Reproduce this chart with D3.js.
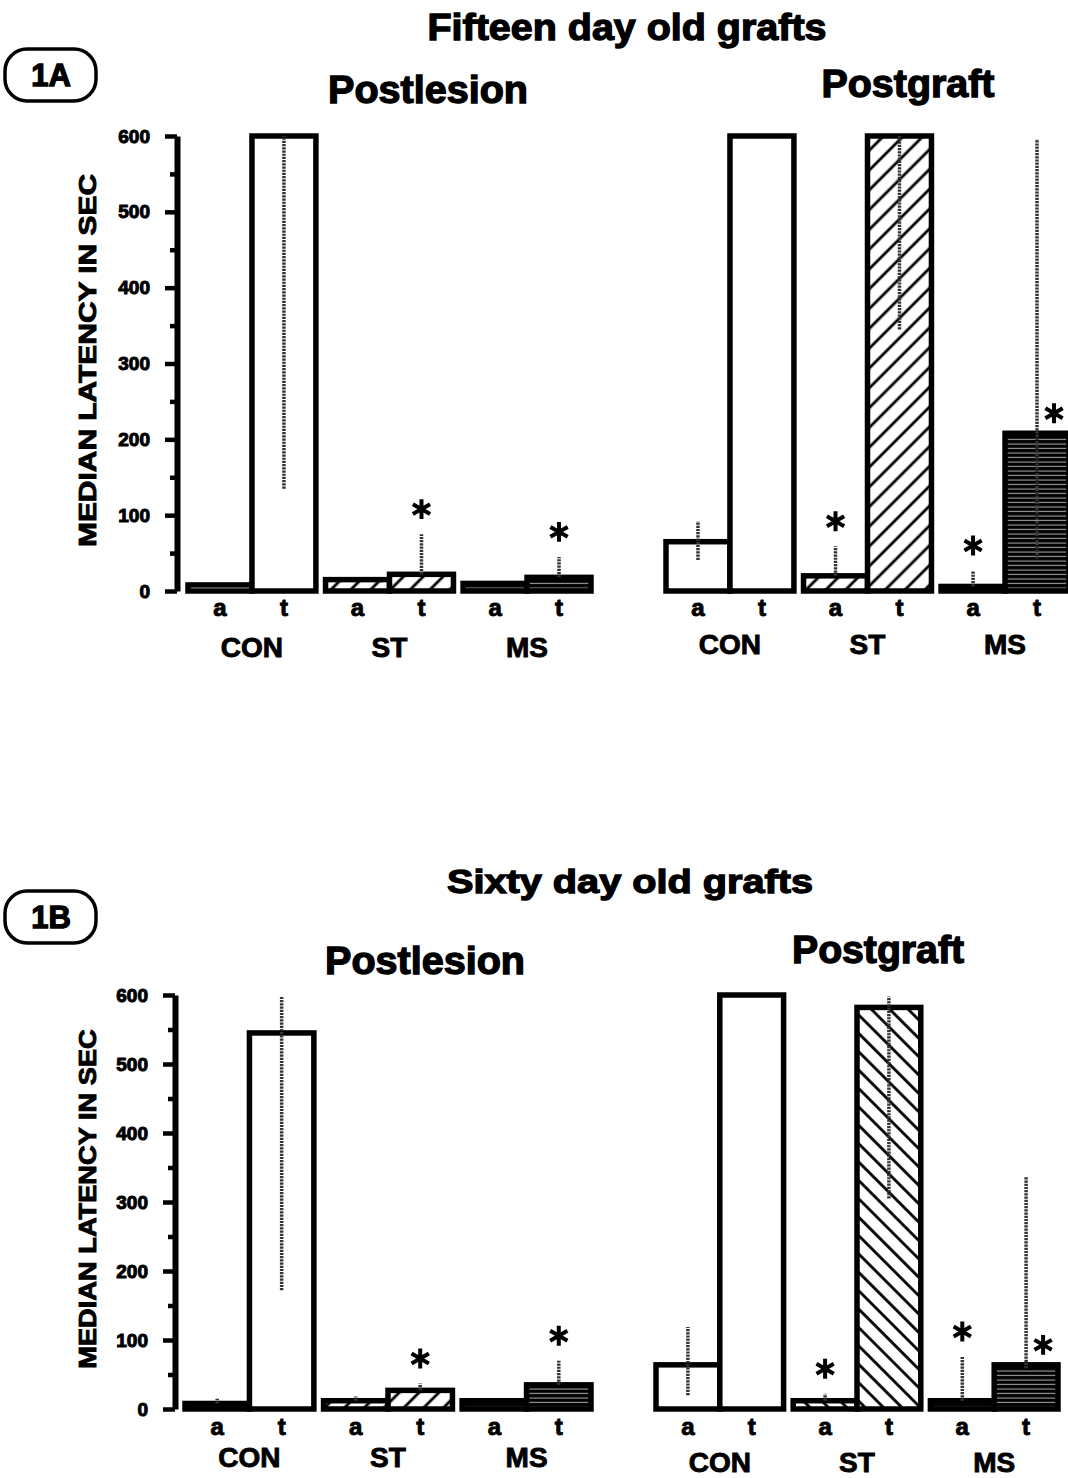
<!DOCTYPE html>
<html>
<head>
<meta charset="utf-8">
<style>
  body { margin: 0; background: #fff; }
  svg { display: block; font-family: 'Liberation Sans', Arial, sans-serif; font-weight: bold; }
  text { stroke: #000; stroke-width: 0.9px; paint-order: stroke; }
  .title { stroke-width: 1.3px; }
  .axis .domain { stroke: #000; stroke-width: 6px; }
  .axis .tick line { stroke: #000; stroke-width: 4.5px; }
  .axis .tick text { font-size: 19px; font-weight: bold; fill: #000; stroke: #000; stroke-width: 1px; font-family: 'Liberation Sans', Arial, sans-serif; }
  .minor .domain { display: none; }
  .minor .tick text { display: none; }
  .bar { stroke: #000; stroke-width: 5.5px; }
  .err { stroke: #333; stroke-width: 3.5px; stroke-dasharray: 2.2 1; }
  .star { fill: none; stroke: #000; stroke-width: 4px; }
</style>
</head>
<body>
<svg width="1068" height="1478"></svg>
<script src="https://d3js.org/d3.v7.min.js"></script>
<script>
// categories
const groups = ["CON", "ST", "MS"];
const sessions = ["a", "t"];
const yTicks = [0, 100, 200, 300, 400, 500, 600];
const yMinorTicks = [50, 150, 250, 350, 450, 550];

// order of every series: CON a, CON t, ST a, ST t, MS a, MS t
// 1A fifteen day old grafts, postlesion
const fifteenLesion = [8, 600, 15, 22, 10, 18];
const fifteenLesionLo = [null, 135, null, 22, null, 18];
const fifteenLesionHi = [null, 600, null, 75, null, 45];
const fifteenLesionStar = ["", "", "", "top", "", "top"];

// 1A fifteen day old grafts, postgraft
const fifteenGraft = [65, 600, 20, 600, 6, 208];
const fifteenGraftLo = [41, null, 20, 345, 6, 43];
const fifteenGraftHi = [92, null, 59, 600, 27, 596];
const fifteenGraftStar = ["", "", "top", "", "top", "side"];

// 1B sixty day old grafts, postlesion
const sixtyLesion = [8, 545, 12, 27, 12, 35];
const sixtyLesionLo = [8, 172, 12, 27, null, 35];
const sixtyLesionHi = [15, 598, 18, 37, null, 70];
const sixtyLesionStar = ["", "", "", "top", "", "top"];

// 1B sixty day old grafts, postgraft
const sixtyGraft = [64, 600, 12, 582, 12, 64];
const sixtyGraftLo = [20, null, 12, 305, 12, 59];
const sixtyGraftHi = [119, null, 22, 598, 76, 336];
const sixtyGraftStar = ["", "", "top", "", "top", "side"];

let svg = d3.select("svg");

// fill patterns
let defs = svg.append("defs");

function hatch(id, angle, gap) {
    let p = defs.append("pattern")
        .attr("id", id)
        .attr("patternUnits", "userSpaceOnUse")
        .attr("width", gap)
        .attr("height", gap)
        .attr("patternTransform", `rotate(${angle})`);
    p.append("rect").attr("width", gap).attr("height", gap).attr("fill", "#fff");
    p.append("line")
        .attr("x1", gap / 2).attr("x2", gap / 2)
        .attr("y1", 0).attr("y2", gap)
        .attr("stroke", "#000")
        .attr("stroke-width", 2.8);
}
hatch("hatchFwd", 45, 14);
hatch("hatchBack", -45, 13);

let ms = defs.append("pattern")
    .attr("id", "msLines")
    .attr("patternUnits", "userSpaceOnUse")
    .attr("width", 8)
    .attr("height", 4.5);
ms.append("rect").attr("width", 8).attr("height", 4.5).attr("fill", "#000");
ms.append("line")
    .attr("x1", 0).attr("x2", 8)
    .attr("y1", 3).attr("y2", 3)
    .attr("stroke", "#fff")
    .attr("stroke-opacity", 0.7)
    .attr("stroke-width", 1);

let panels = [
    { med: fifteenLesion, lo: fifteenLesionLo, hi: fifteenLesionHi, star: fifteenLesionStar,
      x0: 188, x1: 591, y0: 591, y1: 136, axisX: 177, hatch: "hatchFwd", labY: 616, grpY: 657 },
    { med: fifteenGraft, lo: fifteenGraftLo, hi: fifteenGraftHi, star: fifteenGraftStar,
      x0: 666, x1: 1069, y0: 591, y1: 136, axisX: null, hatch: "hatchFwd", labY: 616, grpY: 654 },
    { med: sixtyLesion, lo: sixtyLesionLo, hi: sixtyLesionHi, star: sixtyLesionStar,
      x0: 185, x1: 591, y0: 1409, y1: 995, axisX: 175, hatch: "hatchFwd", labY: 1435, grpY: 1467 },
    { med: sixtyGraft, lo: sixtyGraftLo, hi: sixtyGraftHi, star: sixtyGraftStar,
      x0: 656, x1: 1058, y0: 1409, y1: 995, axisX: null, hatch: "hatchBack", labY: 1435, grpY: 1472 }
];

let starShape = d3.symbol().type(d3.symbolAsterisk || d3.symbolCross).size(280);

panels.forEach(function (p) {
    let y = d3.scaleLinear().domain([0, 600]).range([p.y0, p.y1]);
    let xg = d3.scaleBand().domain(groups).range([p.x0, p.x1]).paddingInner(0.07);
    let xs = d3.scaleBand().domain(sessions).range([0, xg.bandwidth()]);

    let rows = [];
    groups.forEach(function (g, i) {
        sessions.forEach(function (s, j) {
            let k = i * 2 + j;
            rows.push({ g: g, s: s, v: p.med[k], lo: p.lo[k], hi: p.hi[k], star: p.star[k] });
        });
    });

    let g = svg.append("g");

    g.selectAll(".bar")
        .data(rows)
        .join("rect")
        .attr("class", "bar")
        .attr("x", d => xg(d.g) + xs(d.s))
        .attr("y", d => y(d.v))
        .attr("width", xs.bandwidth())
        .attr("height", d => y(0) - y(d.v))
        .attr("fill", d => d.g == "CON" ? "#fff" : d.g == "ST" ? `url(#${p.hatch})` : "url(#msLines)");

    // dotted range lines
    g.selectAll(".err")
        .data(rows.filter(d => d.lo != null))
        .join("line")
        .attr("class", "err")
        .attr("x1", d => xg(d.g) + xs(d.s) + xs.bandwidth() / 2)
        .attr("x2", d => xg(d.g) + xs(d.s) + xs.bandwidth() / 2)
        .attr("y1", d => y(d.lo))
        .attr("y2", d => y(d.hi));

    // significance marks
    g.selectAll(".star")
        .data(rows.filter(d => d.star != ""))
        .join("path")
        .attr("class", "star")
        .attr("d", starShape)
        .attr("transform", function (d) {
            let cx = xg(d.g) + xs(d.s) + xs.bandwidth() / 2;
            if (d.star == "side") {
                return `translate(${cx + 17},${y(d.v) - 20})`;
            }
            let top = Math.max(d.v, d.hi == null ? d.v : d.hi);
            return `translate(${cx},${y(top) - 25})`;
        });

    // a / t labels
    g.selectAll(".sess")
        .data(rows)
        .join("text")
        .attr("class", "sess")
        .attr("x", d => xg(d.g) + xs(d.s) + xs.bandwidth() / 2)
        .attr("y", p.labY)
        .attr("text-anchor", "middle")
        .style("font-size", "24px")
        .text(d => d.s);

    g.selectAll(".grp")
        .data(groups)
        .join("text")
        .attr("class", "grp")
        .attr("x", d => xg(d) + xg.bandwidth() / 2)
        .attr("y", p.grpY)
        .attr("text-anchor", "middle")
        .style("font-size", "28px")
        .text(d => d);

    if (p.axisX != null) {
        let yAxis = d3.axisLeft(y)
            .tickValues(yTicks)
            .tickSize(12)
            .tickSizeOuter(0)
            .tickPadding(15)
            .tickFormat(d3.format("d"));
        g.append("g")
            .attr("class", "axis")
            .attr("transform", `translate(${p.axisX},0)`)
            .call(yAxis);

        let yMinor = d3.axisLeft(y)
            .tickValues(yMinorTicks)
            .tickSize(7)
            .tickSizeOuter(0);
        g.append("g")
            .attr("class", "axis minor")
            .attr("transform", `translate(${p.axisX},0)`)
            .call(yMinor);

        svg.append("text")
            .attr("transform", `translate(96,${(p.y0 + p.y1) / 2 - 3}) rotate(-90)`)
            .attr("text-anchor", "middle")
            .attr("textLength", (p.y0 - p.y1) * 0.82)
            .attr("lengthAdjust", "spacingAndGlyphs")
            .style("font-size", "24px")
            .text("MEDIAN LATENCY IN SEC");
    }
});

// headings
let titles = [
    { t: "Fifteen day old grafts", x: 627, y: 40, s: 36, w: 399 },
    { t: "Postlesion", x: 428, y: 103, s: 38, w: 200 },
    { t: "Postgraft", x: 908, y: 97, s: 38, w: 173 },
    { t: "Sixty day old grafts", x: 630, y: 893, s: 34, w: 366 },
    { t: "Postlesion", x: 425, y: 974, s: 38, w: 200 },
    { t: "Postgraft", x: 878, y: 963, s: 38, w: 172 }
];
svg.selectAll(".title")
    .data(titles)
    .join("text")
    .attr("class", "title")
    .attr("x", d => d.x)
    .attr("y", d => d.y)
    .attr("text-anchor", "middle")
    .attr("textLength", d => d.w)
    .attr("lengthAdjust", "spacingAndGlyphs")
    .style("font-size", d => d.s + "px")
    .text(d => d.t);

// figure tags
[{ t: "1A", y: 49 }, { t: "1B", y: 891 }].forEach(function (f) {
    svg.append("rect")
        .attr("x", 5).attr("y", f.y)
        .attr("width", 91).attr("height", 52)
        .attr("rx", 22)
        .attr("fill", "none")
        .attr("stroke", "#000")
        .attr("stroke-width", 3.5);
    svg.append("text")
        .attr("class", "title")
        .attr("x", 51).attr("y", f.y + 37)
        .attr("text-anchor", "middle")
        .style("font-size", "31px")
        .text(f.t);
});
</script>
</body>
</html>
